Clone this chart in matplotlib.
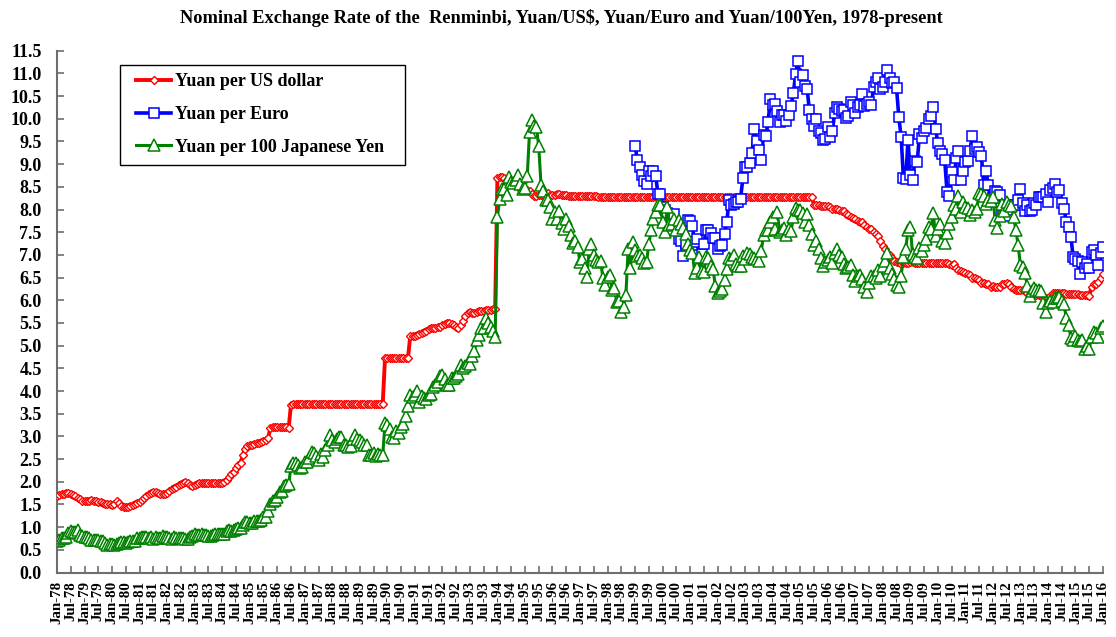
import matplotlib
matplotlib.use("Agg")
import matplotlib.pyplot as plt
from matplotlib.patches import Rectangle
import numpy as np

# ---------------- data (monthly, Jan-78 .. Jan-16) ----------------
yuan_per_usd = [
    1.68, 1.70, 1.72, 1.74, 1.75, 1.75, 1.73, 1.71, 1.68, 1.64, 1.62, 1.58,   # 1978
    1.57, 1.58, 1.58, 1.59, 1.58, 1.57, 1.56, 1.55, 1.54, 1.52, 1.51, 1.50,   # 1979
    1.48, 1.50, 1.58, 1.53, 1.47, 1.45, 1.44, 1.45, 1.46, 1.48, 1.50, 1.53,   # 1980
    1.55, 1.60, 1.64, 1.68, 1.73, 1.76, 1.78, 1.78, 1.76, 1.74, 1.72, 1.72,   # 1981
    1.76, 1.80, 1.84, 1.87, 1.89, 1.92, 1.95, 1.98, 2.00, 1.98, 1.93, 1.90,   # 1982
    1.93, 1.96, 1.97, 1.98, 1.98, 1.98, 1.98, 1.98, 1.97, 1.97, 1.97, 1.98,   # 1983
    1.97, 1.99, 2.04, 2.10, 2.16, 2.22, 2.30, 2.36, 2.42, 2.58, 2.72, 2.78,   # 1984
    2.80, 2.82, 2.84, 2.85, 2.86, 2.87, 2.89, 2.91, 2.96, 3.18, 3.20, 3.20,   # 1985
    3.20, 3.20, 3.20, 3.20, 3.20, 3.18, 3.70, 3.72, 3.72, 3.72, 3.72, 3.72,   # 1986
    3.72, 3.72, 3.72, 3.72, 3.72, 3.72, 3.72, 3.72, 3.72, 3.72, 3.72, 3.72,   # 1987
    3.72, 3.72, 3.72, 3.72, 3.72, 3.72, 3.72, 3.72, 3.72, 3.72, 3.72, 3.72,   # 1988
    3.72, 3.72, 3.72, 3.72, 3.72, 3.72, 3.72, 3.72, 3.72, 3.72, 3.72, 4.72,   # 1989
    4.72, 4.72, 4.72, 4.72, 4.72, 4.72, 4.72, 4.72, 4.72, 4.72, 5.22, 5.22,   # 1990
    5.22, 5.23, 5.25, 5.28, 5.30, 5.33, 5.36, 5.38, 5.38, 5.38, 5.40, 5.42,   # 1991
    5.45, 5.47, 5.49, 5.50, 5.48, 5.45, 5.42, 5.38, 5.45, 5.55, 5.65, 5.72,   # 1992
    5.74, 5.73, 5.72, 5.74, 5.76, 5.76, 5.77, 5.78, 5.78, 5.79, 5.80, 5.80,   # 1993
    8.70, 8.72, 8.71, 8.70, 8.66, 8.63, 8.61, 8.58, 8.55, 8.50, 8.48, 8.45,   # 1994
    8.44, 8.43, 8.40, 8.34, 8.29, 8.30, 8.31, 8.32, 8.33, 8.35, 8.36, 8.33,   # 1995
    8.32, 8.31, 8.34, 8.34, 8.33, 8.32, 8.31, 8.30, 8.30, 8.30, 8.30, 8.30,   # 1996
    8.30, 8.30, 8.30, 8.29, 8.29, 8.29, 8.29, 8.29, 8.28, 8.28, 8.28, 8.28,   # 1997
    8.28, 8.28, 8.28, 8.28, 8.28, 8.28, 8.28, 8.28, 8.28, 8.28, 8.28, 8.28,   # 1998
    8.28, 8.28, 8.28, 8.28, 8.28, 8.28, 8.28, 8.28, 8.28, 8.28, 8.28, 8.28,   # 1999
    8.28, 8.28, 8.28, 8.28, 8.28, 8.28, 8.28, 8.28, 8.28, 8.28, 8.28, 8.28,   # 2000
    8.28, 8.28, 8.28, 8.28, 8.28, 8.28, 8.28, 8.28, 8.28, 8.28, 8.28, 8.28,   # 2001
    8.28, 8.28, 8.28, 8.28, 8.28, 8.28, 8.28, 8.28, 8.28, 8.28, 8.28, 8.28,   # 2002
    8.28, 8.28, 8.28, 8.28, 8.28, 8.28, 8.28, 8.28, 8.28, 8.28, 8.28, 8.28,   # 2003
    8.28, 8.28, 8.28, 8.28, 8.28, 8.28, 8.28, 8.28, 8.28, 8.28, 8.28, 8.28,   # 2004
    8.28, 8.28, 8.28, 8.28, 8.28, 8.28, 8.11, 8.10, 8.09, 8.08, 8.08, 8.07,   # 2005
    8.07, 8.05, 8.02, 8.02, 8.02, 8.00, 7.97, 7.96, 7.91, 7.88, 7.84, 7.81,   # 2006
    7.78, 7.74, 7.73, 7.72, 7.65, 7.62, 7.57, 7.56, 7.51, 7.47, 7.41, 7.30,   # 2007
    7.19, 7.13, 7.02, 6.99, 6.94, 6.86, 6.84, 6.84, 6.81, 6.83, 6.83, 6.83,   # 2008
    6.84, 6.84, 6.83, 6.83, 6.83, 6.83, 6.83, 6.83, 6.83, 6.83, 6.83, 6.83,   # 2009
    6.83, 6.83, 6.83, 6.83, 6.83, 6.79, 6.77, 6.81, 6.70, 6.67, 6.65, 6.62,   # 2010
    6.60, 6.57, 6.55, 6.49, 6.48, 6.46, 6.44, 6.39, 6.38, 6.36, 6.36, 6.30,   # 2011
    6.31, 6.30, 6.29, 6.29, 6.36, 6.35, 6.38, 6.35, 6.29, 6.25, 6.23, 6.23,   # 2012
    6.22, 6.23, 6.21, 6.16, 6.13, 6.14, 6.13, 6.12, 6.12, 6.10, 6.09, 6.05,   # 2013
    6.05, 6.10, 6.15, 6.17, 6.16, 6.16, 6.16, 6.15, 6.14, 6.13, 6.13, 6.14,   # 2014
    6.13, 6.13, 6.12, 6.11, 6.11, 6.11, 6.10, 6.30, 6.36, 6.35, 6.40, 6.48,   # 2015
    6.57,                                                                     # Jan-16
]

# Yuan per Euro, Jan-99 .. Jan-16
euro_start_index = 252
yuan_per_euro = [
    9.41, 9.09, 8.93, 8.76, 8.63, 8.57, 8.84, 8.74, 8.84, 8.74, 8.34, 8.34,        # 1999
    8.06, 7.98, 7.92, 7.55, 7.73, 7.89, 7.66, 7.36, 7.30, 6.98, 7.24, 7.77,        # 2000
    7.74, 7.63, 7.29, 7.35, 7.00, 7.03, 7.25, 7.54, 7.54, 7.49, 7.37, 7.37,        # 2001
    7.12, 7.20, 7.22, 7.46, 7.73, 8.21, 8.10, 8.12, 8.16, 8.17, 8.24, 8.69,        # 2002
    8.93, 8.94, 9.03, 9.25, 9.77, 9.52, 9.31, 9.10, 9.65, 9.61, 9.93, 10.43,       # 2003
    10.31, 10.33, 10.18, 9.92, 10.09, 10.09, 9.95, 10.09, 10.28, 10.56, 10.98, 11.28,  # 2004
    10.80, 10.97, 10.73, 10.66, 10.19, 10.00, 9.84, 9.99, 9.73, 9.68, 9.53, 9.56,  # 2005
    9.81, 9.60, 9.72, 10.13, 10.26, 10.22, 10.18, 10.20, 10.01, 10.05, 10.36, 10.31,  # 2006
    10.13, 10.25, 10.31, 10.55, 10.29, 10.32, 10.37, 10.30, 10.70, 10.82, 10.89, 10.65,  # 2007
    10.69, 10.82, 11.08, 10.90, 10.79, 10.80, 10.67, 10.03, 9.60, 8.69, 8.67, 9.54,  # 2008
    8.76, 8.66, 9.08, 9.04, 9.66, 9.58, 9.73, 9.79, 10.00, 10.05, 10.25, 9.78,     # 2009
    9.47, 9.30, 9.23, 9.09, 8.39, 8.30, 8.83, 8.64, 9.13, 9.28, 8.64, 8.84,        # 2010
    9.04, 9.07, 9.28, 9.61, 9.34, 9.37, 9.27, 9.18, 8.54, 8.84, 8.55, 8.16,        # 2011
    8.25, 8.40, 8.39, 8.33, 7.87, 8.05, 7.85, 7.99, 8.09, 8.11, 8.10, 8.22,        # 2012
    8.45, 8.14, 7.96, 8.11, 7.97, 7.99, 8.15, 8.09, 8.27, 8.28, 8.28, 8.34,        # 2013
    8.16, 8.42, 8.47, 8.56, 8.38, 8.43, 8.14, 8.02, 7.73, 7.62, 7.40, 6.95,        # 2014
    6.92, 6.87, 6.57, 6.84, 6.71, 6.81, 6.70, 7.06, 7.10, 6.99, 6.77, 7.04,        # 2015
    7.17,                                                                          # Jan-16
]

yuan_per_100yen = [
    0.70, 0.71, 0.77, 0.77, 0.78, 0.86, 0.91, 0.90, 0.89, 0.93, 0.82, 0.81,   # 1978
    0.78, 0.79, 0.76, 0.72, 0.72, 0.72, 0.72, 0.70, 0.69, 0.64, 0.61, 0.63,   # 1979
    0.62, 0.60, 0.63, 0.65, 0.67, 0.67, 0.64, 0.67, 0.70, 0.70, 0.70, 0.75,   # 1980
    0.76, 0.78, 0.78, 0.78, 0.77, 0.79, 0.74, 0.78, 0.77, 0.75, 0.80, 0.79,   # 1981
    0.78, 0.76, 0.74, 0.79, 0.77, 0.75, 0.75, 0.77, 0.74, 0.73, 0.78, 0.81,   # 1982
    0.84, 0.82, 0.82, 0.84, 0.83, 0.83, 0.81, 0.81, 0.83, 0.85, 0.84, 0.85,   # 1983
    0.84, 0.85, 0.91, 0.93, 0.92, 0.93, 0.95, 0.98, 0.99, 1.05, 1.11, 1.11,   # 1984
    1.10, 1.08, 1.13, 1.14, 1.14, 1.15, 1.22, 1.23, 1.36, 1.51, 1.58, 1.60,   # 1985
    1.67, 1.78, 1.80, 1.90, 1.92, 1.94, 2.34, 2.42, 2.42, 2.37, 2.30, 2.33,   # 1986
    2.43, 2.43, 2.53, 2.66, 2.64, 2.57, 2.48, 2.62, 2.55, 2.70, 2.80, 3.02,   # 1987
    2.91, 2.88, 2.95, 2.98, 2.98, 2.80, 2.82, 2.76, 2.78, 2.95, 3.02, 2.95,   # 1988
    2.91, 2.88, 2.80, 2.82, 2.60, 2.60, 2.64, 2.57, 2.62, 2.60, 2.58, 3.30,   # 1989
    3.26, 3.17, 2.99, 2.97, 3.11, 3.08, 3.21, 3.28, 3.45, 3.66, 3.92, 3.87,   # 1990
    3.92, 3.99, 3.75, 3.88, 3.84, 3.83, 3.91, 3.93, 4.08, 4.14, 4.19, 4.34,   # 1991
    4.36, 4.27, 4.13, 4.14, 4.28, 4.29, 4.34, 4.37, 4.58, 4.51, 4.56, 4.61,   # 1992
    4.59, 4.78, 4.89, 5.13, 5.24, 5.38, 5.39, 5.61, 5.50, 5.41, 5.32, 5.18,   # 1993
    7.84, 8.23, 8.46, 8.45, 8.33, 8.72, 8.61, 8.58, 8.64, 8.76, 8.57, 8.45,   # 1994
    8.48, 8.73, 9.71, 9.98, 9.85, 9.81, 9.40, 8.55, 8.41, 8.20, 8.21, 8.06,   # 1995
    7.78, 7.95, 7.79, 7.97, 7.70, 7.57, 7.78, 7.64, 7.44, 7.27, 7.31, 7.17,   # 1996
    6.84, 6.91, 6.70, 6.52, 7.12, 7.23, 7.00, 6.88, 6.85, 6.87, 6.48, 6.34,   # 1997
    6.52, 6.55, 6.23, 6.27, 5.96, 5.98, 5.75, 5.85, 6.11, 7.14, 6.70, 7.29,   # 1998
    7.11, 6.97, 6.99, 6.94, 6.83, 6.85, 7.23, 7.54, 7.80, 7.94, 8.10, 8.10,   # 1999
    7.72, 7.51, 8.06, 7.66, 7.68, 7.80, 7.55, 7.76, 7.67, 7.60, 7.46, 7.24,   # 2000
    7.11, 7.05, 6.60, 6.70, 6.96, 6.64, 6.62, 6.96, 6.93, 6.76, 6.68, 6.32,   # 2001
    6.15, 6.20, 6.24, 6.44, 6.68, 6.93, 6.91, 6.99, 6.80, 6.76, 6.76, 6.97,   # 2002
    6.91, 7.05, 7.01, 6.96, 6.93, 6.91, 6.87, 7.08, 7.43, 7.55, 7.55, 7.72,   # 2003
    7.83, 7.58, 7.95, 7.50, 7.55, 7.60, 7.43, 7.57, 7.52, 7.83, 8.03, 7.98,   # 2004
    7.99, 7.92, 7.72, 7.90, 7.65, 7.47, 7.22, 7.30, 7.14, 6.94, 6.76, 6.85,   # 2005
    6.89, 6.95, 6.83, 7.05, 7.12, 6.99, 6.95, 6.79, 6.70, 6.74, 6.77, 6.56,   # 2006
    6.43, 6.53, 6.56, 6.46, 6.29, 6.19, 6.38, 6.53, 6.54, 6.48, 6.66, 6.54,   # 2007
    6.76, 6.86, 7.04, 6.72, 6.58, 6.46, 6.33, 6.29, 6.54, 6.95, 7.14, 7.54,   # 2008
    7.61, 7.01, 6.95, 6.93, 7.15, 7.09, 7.21, 7.34, 7.61, 7.58, 7.92, 7.42,   # 2009
    7.56, 7.67, 7.31, 7.27, 7.48, 7.68, 7.84, 8.09, 8.02, 8.30, 7.95, 8.16,   # 2010
    8.05, 8.03, 7.88, 7.99, 7.95, 8.02, 8.37, 8.34, 8.29, 8.13, 8.20, 8.19,   # 2011
    8.27, 7.76, 7.60, 7.86, 8.12, 7.96, 8.17, 8.10, 8.07, 7.83, 7.55, 7.21,   # 2012
    6.78, 6.73, 6.59, 6.32, 6.10, 6.20, 6.26, 6.23, 6.23, 6.20, 5.95, 5.75,   # 2013
    5.93, 5.99, 5.96, 6.04, 6.05, 6.08, 5.99, 5.91, 5.60, 5.46, 5.17, 5.13,   # 2014
    5.22, 5.13, 5.10, 5.12, 4.92, 4.99, 4.92, 5.20, 5.30, 5.27, 5.19, 5.39,   # 2015
    5.43,                                                                     # Jan-16
]

series_labels = ["Yuan per US dollar", "Yuan per Euro", "Yuan per 100 Japanese Yen"]
tick_labels = [f"{m}-{y % 100:02d}" for y in range(1978, 2016) for m in ("Jan", "Jul")] + ["Jan-16"]
y_ticks = [0.0, 0.5, 1.0, 1.5, 2.0, 2.5, 3.0, 3.5, 4.0, 4.5, 5.0, 5.5,
           6.0, 6.5, 7.0, 7.5, 8.0, 8.5, 9.0, 9.5, 10.0, 10.5, 11.0, 11.5]
title = "Nominal Exchange Rate of the  Renminbi, Yuan/US$, Yuan/Euro and Yuan/100Yen, 1978-present"

# ---------------- figure ----------------
FONT = ["Liberation Serif", "DejaVu Serif"]
plt.rcParams["font.family"] = FONT
plt.rcParams["font.weight"] = "bold"

W, H = 1116, 637
fig = plt.figure(figsize=(W / 100, H / 100), dpi=100)
fig.patch.set_facecolor("white")

L, R, T, B = 57, 1103, 50.7, 572.5
ax = fig.add_axes([L / W, 1 - B / H, (R - L) / W, (B - T) / H])

x_usd = np.arange(len(yuan_per_usd))
x_eur = np.arange(euro_start_index, euro_start_index + len(yuan_per_euro))
x_yen = np.arange(len(yuan_per_100yen))

ax.plot(x_usd, yuan_per_usd, color="#FF0000", lw=2.8, marker="D", ms=4.4,
        mfc="white", mec="#FF0000", mew=1.0, label=series_labels[0], zorder=3)
ax.plot(x_eur, yuan_per_euro, color="#0000FF", lw=2.6, marker="s", ms=7.6,
        mfc="white", mec="#0000FF", mew=1.1, label=series_labels[1], zorder=4)
ax.plot(x_yen, yuan_per_100yen, color="#008000", lw=2.2, marker="^", ms=8.2,
        mfc="white", mec="#008000", mew=1.1, label=series_labels[2], zorder=5)

ax.set_xlim(0, len(yuan_per_usd) - 1)
ax.set_ylim(0, 11.5)

ax.set_xticks(np.arange(0, len(yuan_per_usd), 6))
ax.set_xticklabels(tick_labels, rotation=90, fontsize=10.8, fontweight="bold",
                   va="top", ha="center")
ax.set_yticks(y_ticks)
ax.set_yticklabels([f"{v:.1f}" for v in y_ticks], fontsize=13, fontweight="bold")

for s in ("top", "right"):
    ax.spines[s].set_visible(False)
for s in ("left", "bottom"):
    ax.spines[s].set_color("#6e6e6e")
    ax.spines[s].set_linewidth(1.5)

ax.tick_params(axis="y", direction="in", length=5, width=1.2, color="#6e6e6e", pad=11)
ax.tick_params(axis="x", direction="in", length=5, width=1.2, color="#6e6e6e", pad=6)

# legend (frameless) plus a separate frame box matching the reference
leg = ax.legend(loc="upper left", bbox_to_anchor=(136 / W, 1 - 73 / H),
                bbox_transform=fig.transFigure, frameon=False,
                prop={"family": FONT, "weight": "bold", "size": 13},
                handlelength=1.95, handletextpad=0.2, labelspacing=0.88,
                borderpad=0.0, borderaxespad=0, numpoints=1)
fig.add_artist(Rectangle((120 / W, 1 - 165 / H), 285 / W, 100 / H,
                         transform=fig.transFigure, fill=False,
                         edgecolor="black", linewidth=1.0, zorder=6))

fig.text(561 / W, 1 - 18 / H, title, ha="center", va="center",
         fontsize=13.2, fontweight="bold", family=FONT)

fig.savefig("out.png", dpi=100, facecolor="white")
